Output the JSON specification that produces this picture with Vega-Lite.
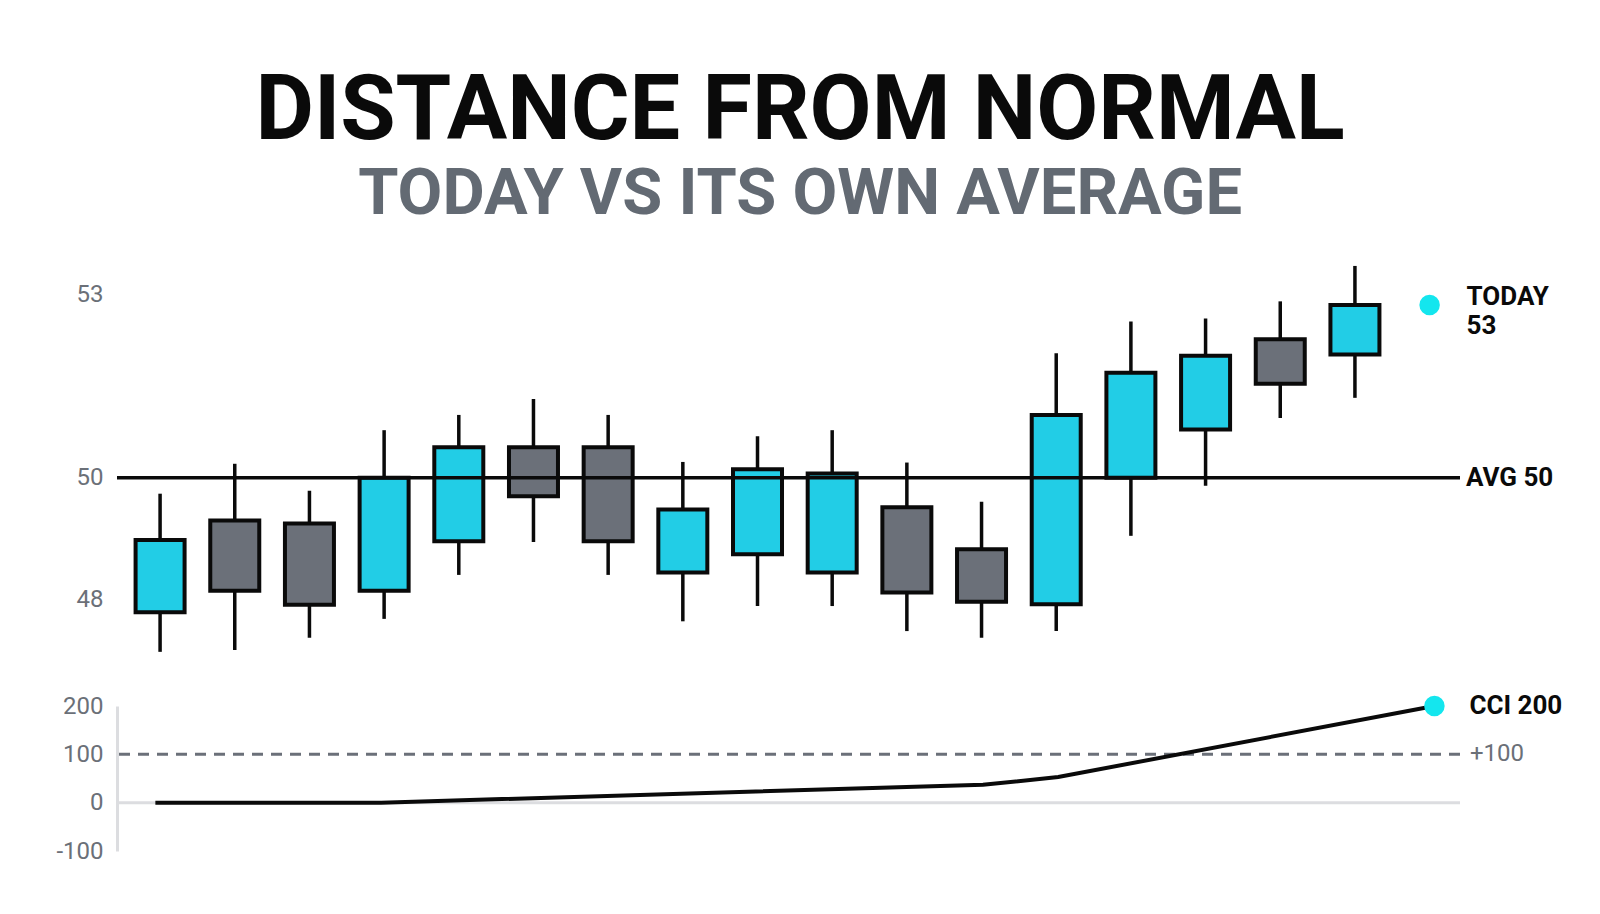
{
  "$schema": "https://vega.github.io/schema/vega-lite/v6.json",
  "background": "white",
  "padding": {"left": 55, "top": 66, "right": 10, "bottom": 10},
  "title": {
    "text": "DISTANCE FROM NORMAL",
    "subtitle": "TODAY VS ITS OWN AVERAGE",
    "anchor": "middle",
    "dx": -9,
    "font": "Roboto",
    "fontSize": 90,
    "fontWeight": "bold",
    "color": "#0a0a0a",
    "subtitleFont": "Roboto",
    "subtitleFontSize": 65,
    "subtitleFontWeight": "bold",
    "subtitleColor": "#636a73",
    "subtitlePadding": 5.5,
    "offset": 30
  },
  "config": {
    "view": {"stroke": null},
    "axis": {
      "grid": false,
      "ticks": false,
      "title": null,
      "labelFont": "Roboto",
      "labelFontSize": 24,
      "labelColor": "#6b7078",
      "labelPadding": 14,
      "labelExpr": "datum.value + ''"
    }
  },
  "datasets": {
    "candles": [
      {"day": 0, "open": 47.80, "high": 49.74, "low": 47.15, "close": 48.98},
      {"day": 1, "open": 49.30, "high": 50.23, "low": 47.18, "close": 48.15},
      {"day": 2, "open": 49.25, "high": 49.79, "low": 47.38, "close": 47.92},
      {"day": 3, "open": 48.15, "high": 50.78, "low": 47.69, "close": 50.00},
      {"day": 4, "open": 48.96, "high": 51.03, "low": 48.41, "close": 50.50},
      {"day": 5, "open": 50.50, "high": 51.29, "low": 48.95, "close": 49.70},
      {"day": 6, "open": 50.50, "high": 51.03, "low": 48.41, "close": 48.96},
      {"day": 7, "open": 48.45, "high": 50.26, "low": 47.65, "close": 49.48},
      {"day": 8, "open": 48.75, "high": 50.68, "low": 47.90, "close": 50.14},
      {"day": 9, "open": 48.45, "high": 50.78, "low": 47.90, "close": 50.07},
      {"day": 10, "open": 49.52, "high": 50.25, "low": 47.49, "close": 48.12},
      {"day": 11, "open": 48.83, "high": 49.61, "low": 47.38, "close": 47.97},
      {"day": 12, "open": 47.93, "high": 52.04, "low": 47.49, "close": 51.03},
      {"day": 13, "open": 50.00, "high": 52.56, "low": 49.05, "close": 51.72},
      {"day": 14, "open": 50.79, "high": 52.61, "low": 49.87, "close": 52.00},
      {"day": 15, "open": 52.27, "high": 52.89, "low": 50.98, "close": 51.54},
      {"day": 16, "open": 52.02, "high": 53.47, "low": 51.31, "close": 52.83}
    ],
    "today": [{"day": 17, "value": 52.83}],
    "cci": [
      {"day": 0, "cci": 0},
      {"day": 3, "cci": 0},
      {"day": 11, "cci": 37},
      {"day": 12, "cci": 53},
      {"day": 17, "cci": 200}
    ],
    "cciNow": [{"day": 17, "cci": 200}]
  },
  "spacing": 45,
  "bounds": "flush",
  "vconcat": [
    {
      "width": 1343,
      "height": 403,
      "layer": [
        {
          "data": {"name": "candles"},
          "mark": {"type": "rule", "strokeWidth": 3.5, "color": "#0a0a0a"},
          "encoding": {
            "x": {"field": "day", "type": "quantitative", "scale": {"domain": [-0.51, 17.34], "nice": false, "zero": false}, "axis": null},
            "y": {"field": "low", "type": "quantitative", "scale": {"domain": [47, 53.6], "nice": false, "zero": false}, "axis": {"values": [48, 50, 53], "domain": false}},
            "y2": {"field": "high"}
          }
        },
        {
          "data": {"name": "candles"},
          "mark": {"type": "bar", "width": 49, "stroke": "#0a0a0a", "strokeWidth": 4},
          "encoding": {
            "x": {"field": "day", "type": "quantitative"},
            "y": {"field": "open", "type": "quantitative"},
            "y2": {"field": "close"},
            "fill": {"condition": {"test": "datum.close >= datum.open", "value": "#22cde6"}, "value": "#6b7079"}
          }
        },
        {
          "data": {"values": [{}]},
          "mark": {"type": "rule", "strokeWidth": 3.5, "color": "#0a0a0a"},
          "encoding": {"y": {"datum": 50}}
        },
        {
          "data": {"values": [{}]},
          "mark": {"type": "text", "text": "AVG 50", "align": "left", "baseline": "middle", "dx": 11, "font": "Roboto", "fontSize": 26, "fontWeight": "bold", "color": "#0a0a0a"},
          "encoding": {"x": {"datum": 17.34}, "y": {"datum": 50}}
        },
        {
          "data": {"name": "today"},
          "mark": {"type": "point", "filled": true, "size": 420, "color": "#14e6ee", "opacity": 1},
          "encoding": {
            "x": {"field": "day", "type": "quantitative"},
            "y": {"field": "value", "type": "quantitative"}
          }
        },
        {
          "data": {"name": "today"},
          "mark": {"type": "text", "text": ["TODAY", "53"], "align": "left", "baseline": "alphabetic", "dx": 37, "dy": 0, "lineHeight": 29, "font": "Roboto", "fontSize": 26, "fontWeight": "bold", "color": "#0a0a0a"},
          "encoding": {
            "x": {"field": "day", "type": "quantitative"},
            "y": {"field": "value", "type": "quantitative"}
          }
        }
      ]
    },
    {
      "width": 1343,
      "height": 145,
      "layer": [
        {
          "data": {"values": [{}]},
          "mark": {"type": "rule", "color": "#dcdde0", "strokeWidth": 3},
          "encoding": {"y": {"datum": 0}}
        },
        {
          "data": {"values": [{}]},
          "mark": {"type": "rule", "color": "#6b7079", "strokeWidth": 3, "strokeDash": [11, 8]},
          "encoding": {"y": {"datum": 100}}
        },
        {
          "data": {"name": "cci"},
          "mark": {"type": "line", "color": "#0a0a0a", "strokeWidth": 4},
          "encoding": {
            "x": {"field": "day", "type": "quantitative", "scale": {"domain": [-0.51, 17.34], "nice": false, "zero": false}, "axis": null},
            "y": {"field": "cci", "type": "quantitative", "scale": {"domain": [-100, 200], "nice": false}, "axis": {"values": [-100, 0, 100, 200], "domain": true, "domainColor": "#dcdde0", "domainWidth": 3}}
          }
        },
        {
          "data": {"name": "cciNow"},
          "mark": {"type": "point", "filled": true, "size": 420, "color": "#14e6ee", "opacity": 1},
          "encoding": {
            "x": {"field": "day", "type": "quantitative"},
            "y": {"field": "cci", "type": "quantitative"}
          }
        },
        {
          "data": {"name": "cciNow"},
          "mark": {"type": "text", "text": "CCI 200", "align": "left", "baseline": "middle", "dx": 35, "font": "Roboto", "fontSize": 26, "fontWeight": "bold", "color": "#0a0a0a"},
          "encoding": {
            "x": {"field": "day", "type": "quantitative"},
            "y": {"field": "cci", "type": "quantitative"}
          }
        },
        {
          "data": {"values": [{}]},
          "mark": {"type": "text", "text": "+100", "align": "left", "baseline": "middle", "dx": 10, "font": "Roboto", "fontSize": 24, "color": "#6b7078"},
          "encoding": {"x": {"datum": 17.34}, "y": {"datum": 100}}
        }
      ]
    }
  ]
}
